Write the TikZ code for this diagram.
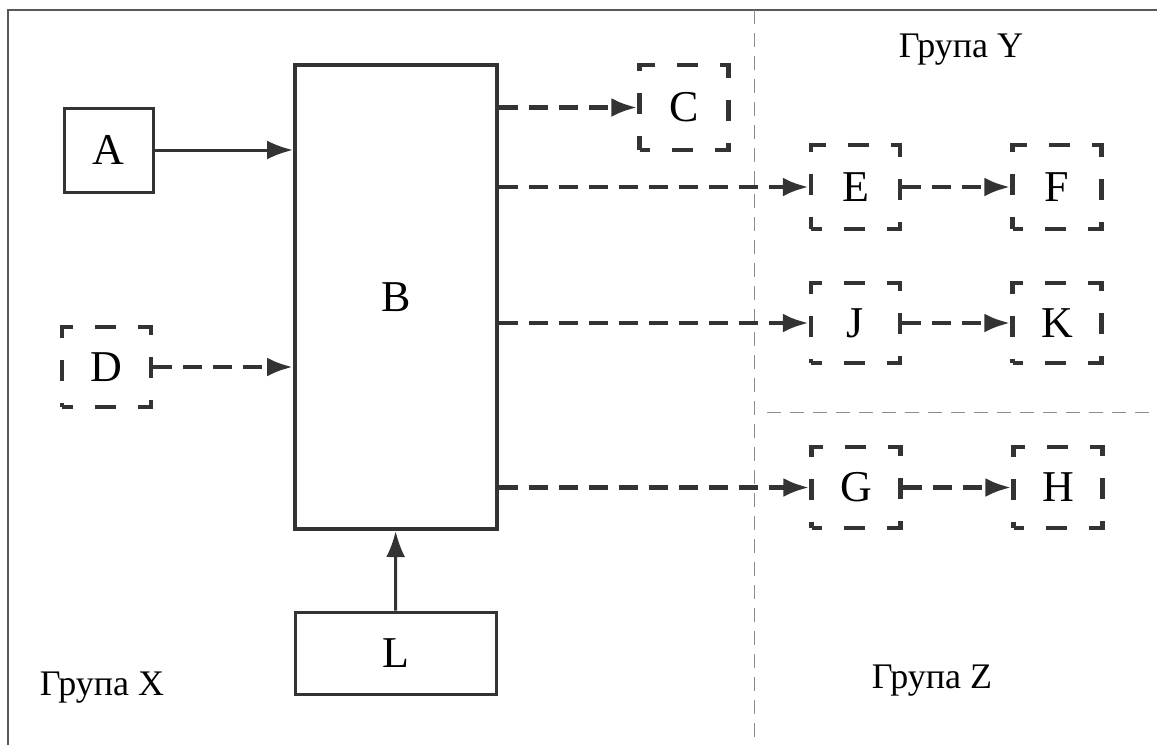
\documentclass[tikz,border=0pt]{standalone}
\usepackage{fontspec}
\setmainfont{Liberation Serif}
\usetikzlibrary{arrows.meta}
\begin{document}
\begin{tikzpicture}[x=1pt, y=-1pt, >={Latex[length=26pt, width=19pt]},
    solidbox/.style={draw=black!80, line width=3pt, minimum width=89pt, minimum height=84pt, inner sep=0pt, font=\fontsize{44}{48}\selectfont},
    dashbox/.style={solidbox, line width=4.5pt, dash pattern=on 21pt off 22pt, dash phase=10.5pt},
    dasharrow/.style={->, draw=black!80, line width=4.5pt, dash pattern=on 19pt off 11pt},
    group/.style={anchor=base, font=\fontsize{36}{40}\selectfont},
    separator/.style={draw=black!45, line width=1pt, dash pattern=on 14pt off 9pt}]
    \useasboundingbox (0,0) rectangle (1157,745);
    
    % Khung và đường phân nhóm
    \draw[black!65, line width=2.5pt] (8,745) -- (8,10) -- (1157,10);
    \draw[separator] (754,10) -- (754,745);
    \draw[separator] (767,412) -- (1157,412);
    
    % Các khối nhóm X
    \node[solidbox] (A) at (108.5,150) {A};
    \node[solidbox, line width=4pt, minimum width=202pt, minimum height=464pt] (B) at (396,297) {B};
    \node[dashbox, minimum height=80pt] (D) at (106.5,367) {D};
    \node[solidbox, minimum width=201pt, minimum height=82pt] (L) at (395.5,653) {L};
    \node[dashbox, minimum height=85pt] (C) at (684,107.5) {C};
    
    % Các khối nhóm Y và Z
    \node[dashbox] (E) at (855.5,187) {E};
    \node[dashbox] (F) at (1057,187) {F};
    \node[dashbox, minimum height=80pt] (J) at (855.5,323) {J};
    \node[dashbox, minimum height=80pt] (K) at (1057,323) {K};
    \node[dashbox, minimum height=81pt] (G) at (856,487.5) {G};
    \node[dashbox, minimum height=81pt] (H) at (1058,487.5) {H};
    
    % Mũi tên
    \draw[->, black!80, line width=3pt] (A) -- (A -| B.west);
    \draw[dasharrow] (D) -- (D -| B.west);
    \draw[->, black!80, line width=3pt] (L) -- (B);
    \draw[dasharrow] (B.east |- C) -- (C);
    \draw[dasharrow] (B.east |- E) -- (E);
    \draw[dasharrow] (B.east |- J) -- (J);
    \draw[dasharrow] (B.east |- G) -- (G);
    \draw[dasharrow] (E) -- (F);
    \draw[dasharrow] (J) -- (K);
    \draw[dasharrow] (G) -- (H);
    
    % Tên nhóm
    \node[group] (gx) at (102,695) {Група X};
    \node[group] (gy) at (961,57) {Група Y};
    \node[group] (gz) at (932,688) {Група Z};
    
\end{tikzpicture}
\end{document}
